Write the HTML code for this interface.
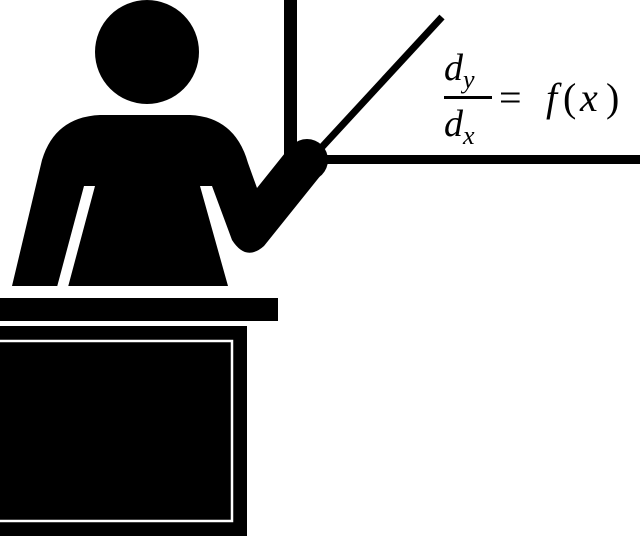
<!DOCTYPE html>
<html><head><style>
html,body{margin:0;padding:0;background:#fff;width:640px;height:536px;overflow:hidden}
svg{display:block}
</style></head><body>
<svg width="640" height="536" viewBox="0 0 640 536">
  <rect x="284" y="0" width="13" height="164" fill="#000"/>
  <rect x="284" y="155" width="356" height="9" fill="#000"/>
  <line x1="442" y1="17" x2="310" y2="160" stroke="#000" stroke-width="7"/>
  <circle cx="147" cy="52" r="52" fill="#000"/>
  <path d="M12,286 L42,160 Q55,117 100,115 L190,115 Q235,117 248,163 L257,188 L293,143 L325,170 L264,246 Q246,262 232,240 L212,186 L200,186 L228,286 Z" fill="#000"/>
  <circle cx="307" cy="160" r="21" fill="#000"/>
  <polygon points="57,287 68,287 95,186 84,186" fill="#fff"/>
  <rect x="0" y="298" width="278" height="23" fill="#000"/>
  <rect x="0" y="326" width="247" height="210" fill="#000"/>
  <rect x="-5" y="341" width="237" height="180" fill="none" stroke="#fff" stroke-width="2.5"/>
  <g font-family="'Liberation Serif', serif" font-style="italic" fill="#000">
    <text x="444" y="80" font-size="38">d<tspan font-size="26" dy="8">y</tspan></text>
    <rect x="444" y="96" width="48" height="3" fill="#000"/>
    <text x="444" y="136" font-size="38">d<tspan font-size="26" dy="8">x</tspan></text>
    <text y="111" font-size="40"><tspan x="499" font-style="normal">=</tspan><tspan x="546">f</tspan><tspan x="563" font-style="normal">(</tspan><tspan x="580">x</tspan><tspan x="606" font-style="normal">)</tspan></text>
  </g>
</svg>
</body></html>
